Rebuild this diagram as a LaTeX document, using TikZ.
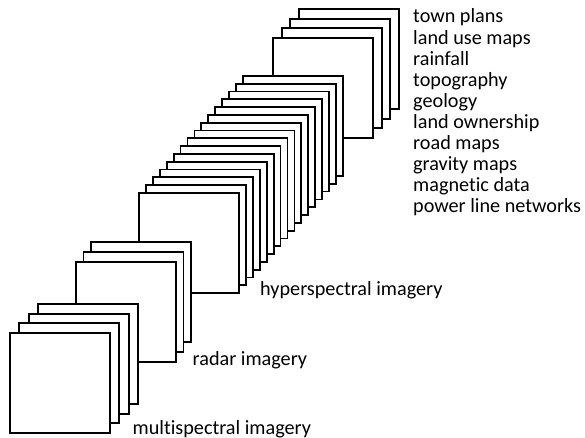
\documentclass[tikz,border=0pt]{standalone}
\usepackage{fontspec}
\setmainfont{Carlito}[Ligatures={NoCommon}]
\begin{document}
\begin{tikzpicture}[x=1pt,y=-1pt,
  sq/.style={draw=black,fill=white,line width=1.8pt,minimum width=100pt,minimum height=100pt,inner sep=0pt,outer sep=0pt},
  lbl/.style={anchor=base west,inner sep=0pt,font=\fontsize{20.2}{21}\selectfont}]
\useasboundingbox[fill=white] (0,0) rectangle (585,438);
% group 4 (thematic maps), back to front
\foreach \i in {3,2,1,0}{
  \node[sq] (g4-\i) at ({273+8.67*\i+50},{38-9.67*\i+50}) {};
}
% group 3 (hyperspectral)
\foreach \i in {15,14,...,0}{
  \node[sq] (g3-\i) at ({139+6.93*\i+50},{193-7.8*\i+50}) {};
}
% group 2 (radar)
\foreach \i in {2,1,0}{
  \node[sq] (g2-\i) at ({76+7.5*\i+50},{262-10*\i+50}) {};
}
% group 1 (multispectral)
\foreach \i in {3,2,1,0}{
  \node[sq] (g1-\i) at ({10+9.33*\i+50},{333-9.67*\i+50}) {};
}
% labels
\node[lbl] (lms) at (132.5,434) {multispectral imagery};
\node[lbl] (lrd) at (192.5,365) {radar imagery};
\node[lbl] (lhs) at (260,295) {hyperspectral imagery};
\foreach \t [count=\k from 0] in {town plans,land use maps,rainfall,topography,geology,land ownership,road maps,gravity maps,magnetic data,power line networks}{
  \node[lbl] (map-\k) at (413,{23+21.1*\k}) {\t};
}
\end{tikzpicture}
\end{document}
